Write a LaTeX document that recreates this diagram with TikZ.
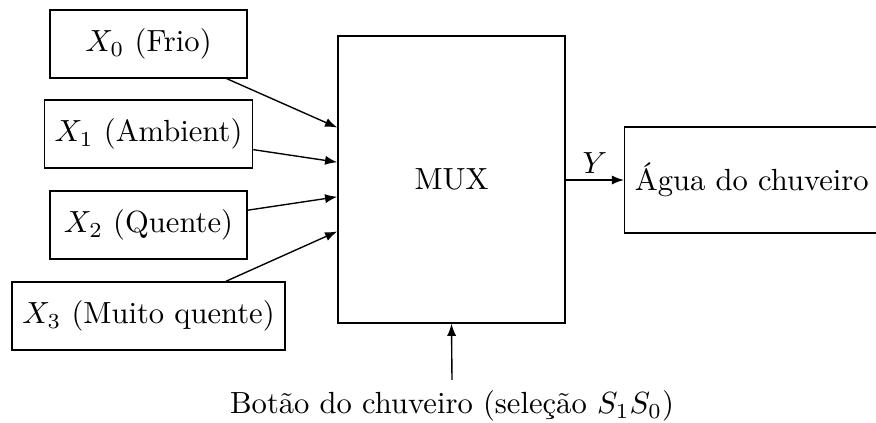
\documentclass[tikz,border=0pt]{standalone}
\usetikzlibrary{calc,arrows.meta}
\begin{document}
\begin{tikzpicture}[x=0.3268pt,y=-0.3268pt,
  blk/.style={draw,line width=0.45pt,minimum height=22.2pt,inner sep=3.33pt},
  conn/.style={line width=0.45pt,-{Latex[length=4pt,width=3pt]}}]
\useasboundingbox (0,0) rectangle (876,423);
\node[blk,minimum width=64.4pt] (x0) at (148.5,44) {$X_0$ (Frio)};
\node[blk] (x1) at (148.5,134) {$X_1$ (Ambient)};
\node[blk,minimum width=64.4pt] (x2) at (148.5,225) {$X_2$ (Quente)};
\node[blk] (x3) at (148.5,316) {$X_3$ (Muito quente)};
\node[blk,minimum width=74.2pt,minimum height=93.8pt] (mux) at (451.5,179.5) {MUX};
\node[blk,minimum height=34.6pt,anchor=west] (agua) at (624,180) {Água do chuveiro};
\node[inner sep=3.33pt] (sel) at (452,406) {Botão do chuveiro (seleção $S_1S_0$)};
\coordinate (m0) at ($(mux.north west)!0.32!(mux.south west)$);
\coordinate (m1) at ($(mux.north west)!0.44!(mux.south west)$);
\coordinate (m2) at ($(mux.north west)!0.56!(mux.south west)$);
\coordinate (m3) at ($(mux.north west)!0.68!(mux.south west)$);
\draw[conn] (x0) -- (m0);
\draw[conn] (x1) -- (m1);
\draw[conn] (x2) -- (m2);
\draw[conn] (x3) -- (m3);
\draw[conn] (mux.east |- agua.west) -- node[above,inner sep=2pt] {$Y$} (agua.west);
\draw[conn] (sel.north) -- (mux.south);
\end{tikzpicture}
\end{document}
